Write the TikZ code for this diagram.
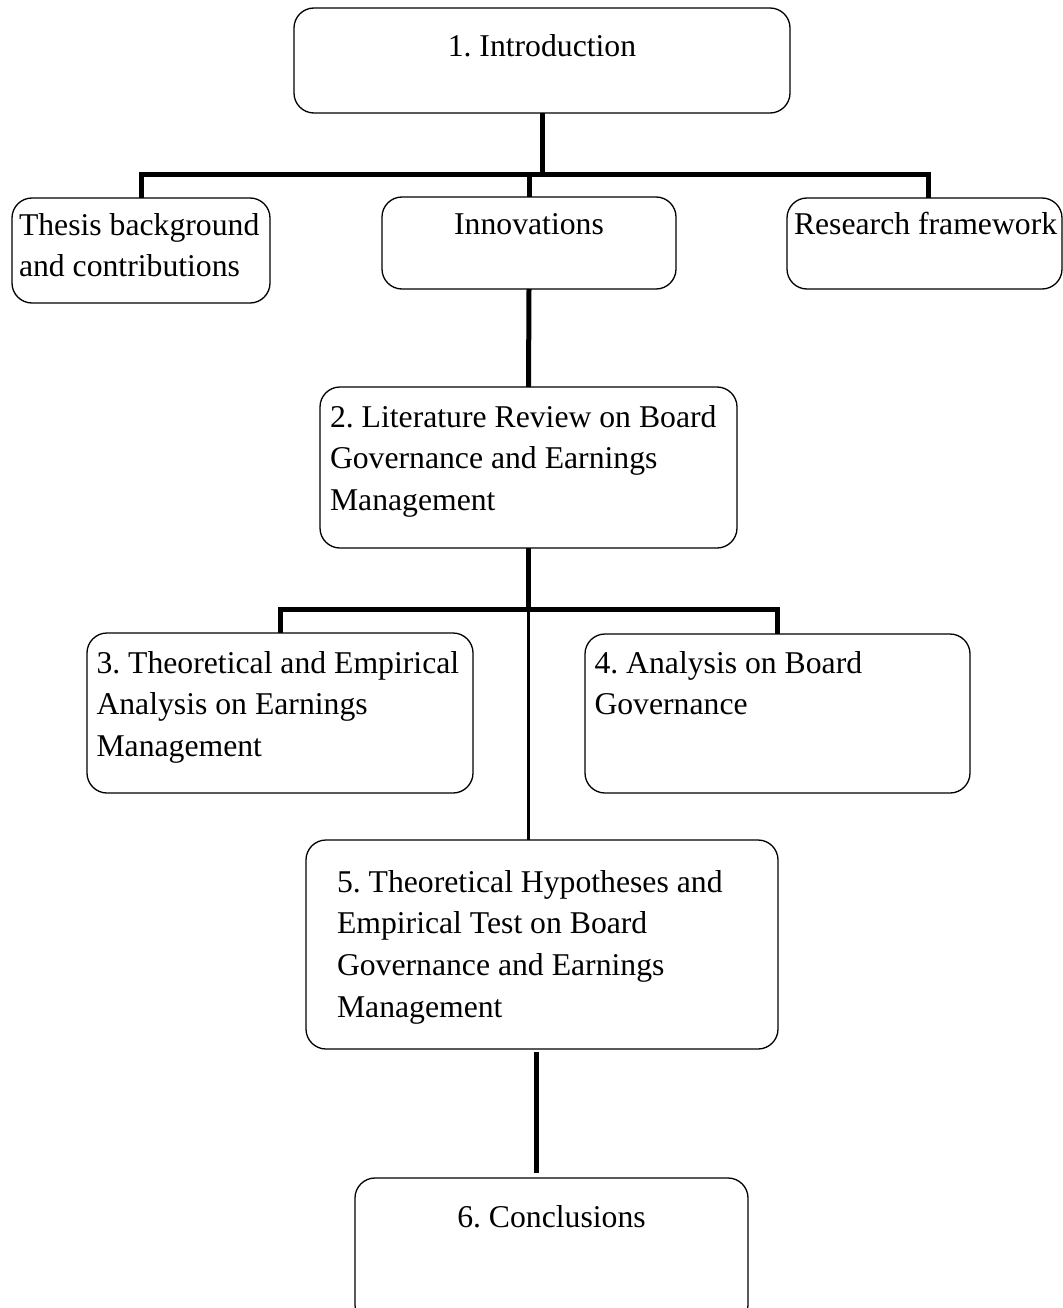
\documentclass[tikz,border=0pt]{standalone}
\usepackage{fontspec}
\setmainfont{Liberation Serif}
\usepackage{tikz}
\newcommand{\chapfont}{\fontsize{31.7}{41.7}\selectfont\frenchspacing\hyphenpenalty=10000}
\tikzset {
        chapnode/.style={draw, line width=1.3pt, rounded corners=20pt, anchor=north west, inner ysep=0pt, outer sep=0pt, font=\chapfont},
        trunkline/.style={line width=5pt},
        branchline/.style={line width=3.5pt}
}

\begin{document}
\begin{tikzpicture}[x=1pt, y=-1pt]
            \useasboundingbox (0,0) rectangle (1062,1308);
            \node[chapnode, align=flush center, inner xsep=10pt, text width=476pt, text height=48.5pt, text depth=56.5pt] (Introduction) at (294,8) {
                1. Introduction
            };
            \node[chapnode, align=flush left, inner xsep=7pt, text width=244pt, text height=37pt, text depth=68pt] (ThesisBackground) at (12,198) {
                Thesis background\\and contributions
            };
            \node[chapnode, align=flush center, inner xsep=10pt, text width=274pt, text height=37pt, text depth=55pt] (Innovations) at (382,197) {
                Innovations
            };
            \node[chapnode, align=flush left, inner xsep=7pt, text width=261pt, text height=36pt, text depth=55pt] (ResearchFramework) at (787,198) {
                \mbox{Research framework}
            };
            \node[chapnode, align=flush left, inner xsep=10pt, text width=397pt, text height=40pt, text depth=121pt] (LiteratureReview) at (320,387) {
                2. Literature Review on Board\\Governance and Earnings\\Management
            };
            \node[chapnode, align=flush left, inner xsep=9.5pt, text width=367pt, text height=40pt, text depth=120pt] (EarningsAnalysis) at (87,633) {
                3. Theoretical and Empirical\\Analysis on Earnings\\Management
            };
            \node[chapnode, align=flush left, inner xsep=9.5pt, text width=366pt, text height=39pt, text depth=120pt] (BoardAnalysis) at (585,634) {
                4. Analysis on Board\\Governance
            };
            \node[chapnode, align=flush left, inner xsep=31pt, text width=410pt, text height=52pt, text depth=157pt] (EmpiricalTest) at (306,840) {
                5. Theoretical Hypotheses and\\Empirical Test on Board\\Governance and Earnings\\Management
            };
            \node[chapnode, align=flush center, inner xsep=10pt, text width=373pt, text height=49pt, text depth=98pt] (Conclusions) at (355,1178) {
                6. Conclusions
            };
            % first level
            \path (Introduction.south) ++(0,62) coordinate (TopSplit);
            \draw[trunkline] (Introduction.south) -- (TopSplit);
            \draw[trunkline] (ThesisBackground.north) |- (TopSplit) -| ([xshift=4pt]ResearchFramework.north);
            \draw[trunkline] (TopSplit -| Innovations.north) -- (Innovations.north);
            \draw[trunkline] (Innovations.south) -- (LiteratureReview.north);
            % second level
            \path (LiteratureReview.south) ++(0,61) coordinate (MidSplit);
            \draw[trunkline] (LiteratureReview.south) -- (MidSplit);
            \draw[trunkline] (EarningsAnalysis.north) |- (MidSplit) -| (BoardAnalysis.north);
            \draw[branchline] (MidSplit) -- (MidSplit |- EmpiricalTest.north);
            \draw[trunkline, shorten <=3pt, shorten >=5pt] ([xshift=-6pt]EmpiricalTest.south) -- ([xshift=-6pt]EmpiricalTest.south |- Conclusions.north);
\end{tikzpicture}
\end{document}
